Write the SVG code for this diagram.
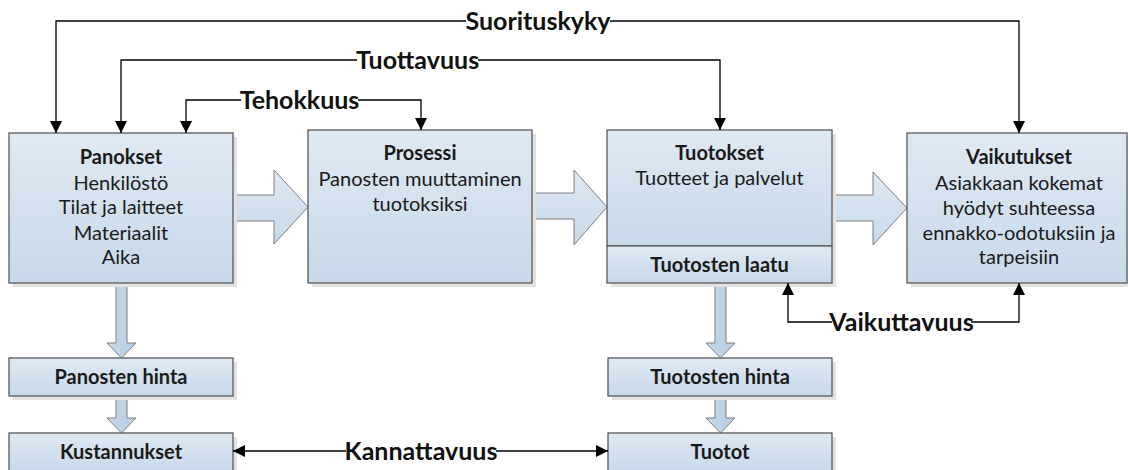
<svg xmlns="http://www.w3.org/2000/svg" width="1128" height="470" viewBox="0 0 1128 470">
  <defs>
    <linearGradient id="boxFill" x1="0" y1="0" x2="0" y2="1">
      <stop offset="0" stop-color="#dfe9f3"/>
      <stop offset="1" stop-color="#c7d9e9"/>
    </linearGradient>
    <linearGradient id="arrowFillH" x1="0" y1="0" x2="0" y2="1">
      <stop offset="0" stop-color="#dfe9f3"/>
      <stop offset="1" stop-color="#c7d9e9"/>
    </linearGradient>
    <linearGradient id="arrowFillV" x1="0" y1="0" x2="1" y2="0">
      <stop offset="0" stop-color="#c7d9e9"/>
      <stop offset="1" stop-color="#b5cde3"/>
    </linearGradient>
    <marker id="head" viewBox="0 0 12 12" refX="12" refY="6" markerWidth="12" markerHeight="12" markerUnits="userSpaceOnUse" orient="auto-start-reverse">
      <path d="M0,0 L12,6 L0,12 Z" fill="#000"/>
    </marker>
  </defs>
  <style>
    .shadow { fill: #e2e2e2; }
    .box { fill: url(#boxFill); stroke: #595959; stroke-width: 1.3; }
    .blockH { fill: url(#arrowFillH); stroke: #7f7f7f; stroke-width: 1; }
    .blockV { fill: url(#arrowFillV); stroke: #7f7f7f; stroke-width: 1; }
    .t { font-family: Lato, "Liberation Sans", sans-serif; font-size: 20px; fill: #1a1a1a; text-anchor: middle; }
    .b { font-weight: bold; }
    .lbl { font-family: Lato, "Liberation Sans", sans-serif; font-size: 25px; font-weight: bold; fill: #111; text-anchor: middle; }
    .wire { fill: none; stroke: #000; stroke-width: 1.3; }
    .gap { fill: #fff; }
  </style>

  <!-- block arrows between stages -->
  <g id="flow-arrows">
    <path class="blockH" d="M233,195 H274 V170 L308,207 L274,244 V221 H233 Z"/>
    <path class="blockH" d="M532,193 H574 V170 L607,207 L574,245 V219 H532 Z"/>
    <path class="blockH" d="M832,195 H873 V172 L907,208 L873,245 V221 H832 Z"/>
    <path class="blockV" d="M116,283 V343 H107 L121.5,358 L136,343 H127 V283 Z"/>
    <path class="blockV" d="M116,396 V418 H107 L121.5,433 L136,418 H127 V396 Z"/>
    <path class="blockV" d="M715,283 V343 H706 L720.5,358 L735,343 H726 V283 Z"/>
    <path class="blockV" d="M715,396 V418 H706 L720.5,433 L735,418 H726 V396 Z"/>
  </g>

  <g id="panokset">
    <rect class="shadow" x="13" y="137" width="224" height="150"/>
    <rect class="box" x="9" y="133" width="224" height="150"/>
    <text class="t b" x="121" y="164">Panokset</text>
    <text class="t" x="121" y="190">Henkilöstö</text>
    <text class="t" x="121" y="214">Tilat ja laitteet</text>
    <text class="t" x="121" y="240">Materiaalit</text>
    <text class="t" x="121" y="264">Aika</text>
  </g>

  <g id="prosessi">
    <rect class="shadow" x="312" y="134" width="224" height="153"/>
    <rect class="box" x="308" y="130" width="224" height="153"/>
    <text class="t b" x="420" y="160">Prosessi</text>
    <text class="t" x="420" y="186">Panosten muuttaminen</text>
    <text class="t" x="420" y="211">tuotoksiksi</text>
  </g>

  <g id="tuotokset">
    <rect class="shadow" x="611" y="134" width="225" height="153"/>
    <rect class="box" x="607" y="130" width="225" height="116"/>
    <rect class="box" x="607" y="246" width="225" height="37"/>
    <text class="t b" x="719.5" y="160">Tuotokset</text>
    <text class="t" x="719.5" y="185">Tuotteet ja palvelut</text>
    <text class="t b" x="719.5" y="272">Tuotosten laatu</text>
  </g>

  <g id="vaikutukset">
    <rect class="shadow" x="911" y="137" width="220" height="150"/>
    <rect class="box" x="907" y="133" width="220" height="150"/>
    <text class="t b" x="1019" y="164">Vaikutukset</text>
    <text class="t" x="1019" y="190">Asiakkaan kokemat</text>
    <text class="t" x="1019" y="215">hyödyt suhteessa</text>
    <text class="t" x="1019" y="240">ennakko-odotuksiin ja</text>
    <text class="t" x="1019" y="264">tarpeisiin</text>
  </g>

  <g id="panosten-hinta">
    <rect class="shadow" x="13" y="362" width="224" height="38"/>
    <rect class="box" x="9" y="358" width="224" height="38"/>
    <text class="t b" x="121" y="384">Panosten hinta</text>
  </g>

  <g id="kustannukset">
    <rect class="shadow" x="13" y="437" width="224" height="38"/>
    <rect class="box" x="9" y="433" width="224" height="38"/>
    <text class="t b" x="121" y="459">Kustannukset</text>
  </g>

  <g id="tuotosten-hinta">
    <rect class="shadow" x="612" y="362" width="224" height="38"/>
    <rect class="box" x="608" y="358" width="224" height="38"/>
    <text class="t b" x="720" y="384">Tuotosten hinta</text>
  </g>

  <g id="tuotot">
    <rect class="shadow" x="612" y="437" width="224" height="38"/>
    <rect class="box" x="608" y="433" width="224" height="38"/>
    <text class="t b" x="720" y="459">Tuotot</text>
  </g>

  <!-- measure connectors -->
  <g id="connectors">
    <path class="wire" marker-end="url(#head)" d="M466,21 H56 V133"/>
    <path class="wire" marker-end="url(#head)" d="M610,21 H1019 V133"/>
    <path class="wire" marker-end="url(#head)" d="M357,60 H121 V133"/>
    <path class="wire" marker-end="url(#head)" d="M478,60 H720 V130"/>
    <path class="wire" marker-end="url(#head)" d="M241,100 H186 V133"/>
    <path class="wire" marker-end="url(#head)" d="M358,100 H421 V130"/>
    <path class="wire" marker-end="url(#head)" d="M832,322 H788 V283"/>
    <path class="wire" marker-end="url(#head)" d="M971,322 H1019 V283"/>
    <path class="wire" marker-start="url(#head)" marker-end="url(#head)" d="M233,451 H608"/>
  </g>

  <g id="labels">
    <rect class="gap" x="466" y="8" width="144" height="28"/>
    <text class="lbl" x="538" y="30">Suorituskyky</text>
    <rect class="gap" x="357" y="47" width="121" height="28"/>
    <text class="lbl" x="417.5" y="69">Tuottavuus</text>
    <rect class="gap" x="241" y="87" width="117" height="28"/>
    <text class="lbl" x="299.5" y="109">Tehokkuus</text>
    <rect class="gap" x="832" y="309" width="139" height="28"/>
    <text class="lbl" x="901.5" y="331">Vaikuttavuus</text>
    <rect class="gap" x="346" y="438" width="150" height="28"/>
    <text class="lbl" x="421" y="460">Kannattavuus</text>
  </g>
</svg>
